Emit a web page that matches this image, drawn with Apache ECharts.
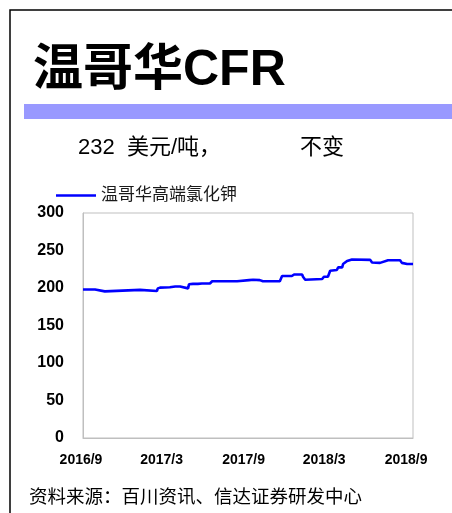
<!DOCTYPE html>
<html>
<head>
<meta charset="utf-8">
<script src="https://cdn.jsdelivr.net/npm/echarts@6/dist/echarts.min.js"></script>
<style>
  html, body { margin: 0; padding: 0; background: #fff; }
  #chart { width: 452px; height: 513px; }
</style>
</head>
<body>
<div id="chart"></div>
<script>
// Vancouver CFR premium potash price, USD/t
const seriesName = '温哥华高端氯化钾';
const dates = ['2016-09-01','2016-09-28','2016-09-30','2016-10-20','2016-10-23','2017-01-07','2017-01-09','2017-02-14','2017-02-16','2017-02-21',
  '2017-03-15','2017-03-18','2017-03-27','2017-04-07','2017-04-09','2017-04-25','2017-04-27','2017-05-06','2017-05-17','2017-05-19',
  '2017-05-26','2017-06-13','2017-06-18','2017-08-13','2017-08-15','2017-09-09','2017-09-13','2017-09-18','2017-10-03','2017-10-10',
  '2017-11-17','2017-11-22','2017-12-14','2017-12-19','2018-01-06','2018-01-08','2018-01-13','2018-01-17','2018-02-20','2018-02-24',
  '2018-03-05','2018-03-10','2018-03-25','2018-03-28','2018-04-06','2018-04-08','2018-04-17','2018-04-28','2018-06-08','2018-06-12',
  '2018-06-30','2018-07-04','2018-07-18','2018-08-14','2018-08-18','2018-08-30','2018-09-12'];
const prices = [198,198,195.5,195.5,197.5,197.5,196,196,199.5,200.5,
  201,201.5,202,202,199.5,199.5,205,205.5,205.5,207.5,
  206,206,209,209,210.5,210.5,213,211,210.5,209,
  209,216,216,218,218,215,211,212,212,215,
  215,223,224,227.5,227.5,232,236,238,237.5,234,
  233.5,236,237,237,233.5,232,232];
const xTickDates = ['2016-09-01','2017-03-01','2017-09-01','2018-03-01','2018-09-01'];
const xTickLabels = ['2016/9','2017/3','2017/9','2018/3','2018/9'];
const yTicks = [0, 50, 100, 150, 200, 250, 300];

const titleText = '温哥华CFR';
const priceText = '232';
const unitText = '美元/吨，';
const changeText = '不变';
const sourceText = '资料来源：百川资讯、信达证券研发中心';

// day number counted from 2016-09-01
const DAY = 86400000;
const origin = Date.UTC(2016, 8, 1);
function dayNum(s) {
  const p = s.split('-').map(Number);
  return Math.round((Date.UTC(p[0], p[1] - 1, p[2]) - origin) / DAY);
}
const xMin = dayNum('2016-09-01');
const xMax = dayNum('2018-09-12');
const tickDays = xTickDates.map(dayNum);

const LATIN = '"Liberation Sans", Arial, "Noto Sans CJK SC", sans-serif';

const chart = echarts.init(document.getElementById('chart'), null, { renderer: 'canvas' });
chart.setOption({
  backgroundColor: '#ffffff',
  animation: false,
  grid: {
    left: 83, right: 39, top: 213, bottom: 75,
    show: true, borderColor: '#BFBFBF', borderWidth: 1, backgroundColor: 'transparent'
  },
  legend: {
    left: 56, top: 187, padding: 0,
    icon: 'rect', itemWidth: 40, itemHeight: 2.5, itemGap: 6,
    textStyle: { fontSize: 17, color: '#1a1a1a', fontFamily: LATIN },
    data: [seriesName]
  },
  xAxis: {
    type: 'value', min: xMin, max: xMax,
    axisLine: { show: true, lineStyle: { color: '#BFBFBF', width: 1 } },
    axisTick: { show: false },
    splitLine: { show: false },
    axisLabel: {
      customValues: tickDays,
      margin: 15,
      fontSize: 14, fontWeight: 'bold', color: '#000', fontFamily: LATIN,
      padding: [0, 4, 0, 0],
      formatter: function (v) {
        const i = tickDays.indexOf(v);
        return i >= 0 ? xTickLabels[i] : '';
      }
    }
  },
  yAxis: {
    type: 'value', min: yTicks[0], max: yTicks[yTicks.length - 1], interval: 50,
    axisLine: { show: true, lineStyle: { color: '#BFBFBF', width: 1 } },
    axisTick: { show: false },
    splitLine: { show: false },
    axisLabel: { margin: 19, fontSize: 16, fontWeight: 'bold', color: '#000', fontFamily: LATIN }
  },
  series: [{
    name: seriesName,
    type: 'line',
    data: dates.map((d, i) => [dayNum(d), prices[i]]),
    showSymbol: false, symbol: 'none',
    lineStyle: { color: '#0000FF', width: 2.6 },
    itemStyle: { color: '#0000FF' }
  }],
  graphic: [
    // outer frame (top and left edges)
    { type: 'polyline', silent: true, shape: { points: [[10, 513], [10, 10], [452, 10]] },
      style: { stroke: '#000', lineWidth: 1.5, fill: null } },
    // title
    { type: 'text', left: 33, top: 46, silent: true,
      style: { text: titleText, font: 'bold 50px ' + LATIN, fill: '#000' } },
    // accent band under the title
    { type: 'rect', silent: true, shape: { x: 24, y: 104, width: 428, height: 15 },
      style: { fill: '#9999FF' } },
    // price line
    { type: 'text', left: 78, top: 137, silent: true,
      style: { text: priceText, font: '22px ' + LATIN, fill: '#000' } },
    { type: 'text', left: 127, top: 137, silent: true,
      style: { text: unitText, font: '22px ' + LATIN, fill: '#000' } },
    { type: 'text', left: 300, top: 137, silent: true,
      style: { text: changeText, font: '22px ' + LATIN, fill: '#000' } },
    // source note
    { type: 'text', left: 29, top: 489, silent: true,
      style: { text: sourceText, font: '18.5px ' + LATIN, fill: '#000' } }
  ]
});
</script>
</body>
</html>
